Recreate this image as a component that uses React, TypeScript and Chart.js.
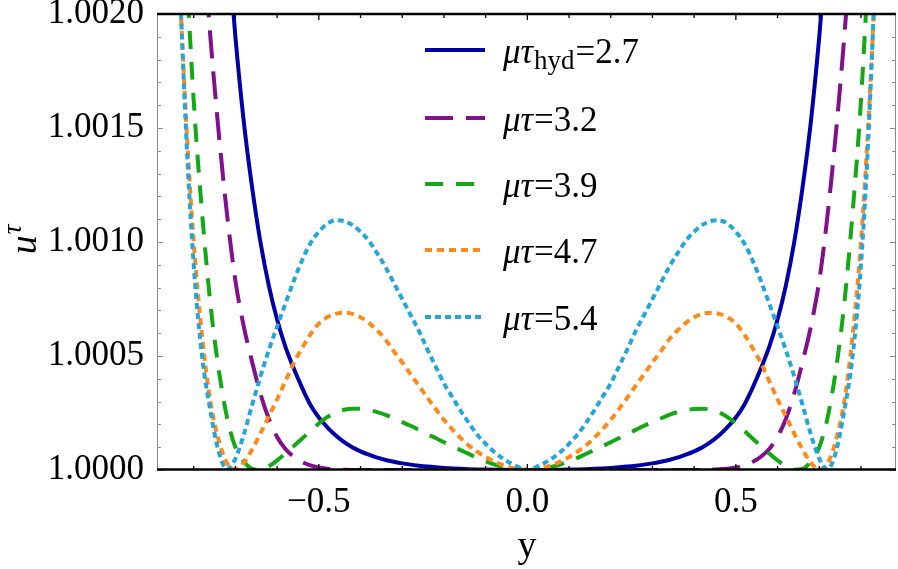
import React, { useEffect, useRef } from "react";
import { Chart, registerables } from "chart.js";

Chart.register(...registerables);

// x positions (y coordinate across the system)
const xGrid = [
  -0.86, -0.84, -0.82, -0.8, -0.78, -0.76, -0.74, -0.72, -0.7, -0.68, -0.66, -0.64, -0.62, -0.6, -0.58,
  -0.56, -0.54, -0.52, -0.5, -0.48, -0.46, -0.44, -0.42, -0.4, -0.38, -0.36, -0.34, -0.32, -0.3, -0.28,
  -0.26, -0.24, -0.22, -0.2, -0.18, -0.16, -0.14, -0.12, -0.1, -0.08, -0.06, -0.04, -0.02, 0,
  0.02, 0.04, 0.06, 0.08, 0.1, 0.12, 0.14, 0.16, 0.18, 0.2, 0.22, 0.24, 0.26, 0.28, 0.3, 0.32, 0.34,
  0.36, 0.38, 0.4, 0.42, 0.44, 0.46, 0.48, 0.5, 0.52, 0.54, 0.56, 0.58, 0.6, 0.62, 0.64, 0.66, 0.68,
  0.7, 0.72, 0.74, 0.76, 0.78, 0.8, 0.82, 0.84, 0.86,
];

// u^tau - 1, in units of 1e-4
const hydDev = [
  97, 80, 66, 54, 44, 36, 29, 23.5, 19, 15.3, 12.4, 10, 8.1, 6.6, 5.4, 4.45, 3.6, 2.85, 2.3, 1.88, 1.52,
  1.23, 1.0, 0.82, 0.67, 0.54, 0.44, 0.36, 0.29, 0.235, 0.19, 0.15, 0.118, 0.092, 0.07, 0.052, 0.038,
  0.027, 0.018, 0.011, 0.006, 0.003, 0.001,
  0,
  0.001, 0.003, 0.006, 0.011, 0.018, 0.027, 0.038, 0.052, 0.07, 0.092, 0.118, 0.15, 0.19, 0.235, 0.29,
  0.36, 0.44, 0.54, 0.67, 0.82, 1.0, 1.23, 1.52, 1.88, 2.3, 2.85, 3.6, 4.45, 5.4, 6.6, 8.1, 10, 12.4,
  15.3, 19, 23.5, 29, 36, 44, 54, 66, 80, 97,
];

const dev32 = [
  57, 46, 37, 30, 24, 19, 14.8, 11.2, 8.3, 6.3, 4.75, 3.35, 2.25, 1.45, 0.92, 0.58, 0.35, 0.2, 0.11,
  0.06, 0.03, 0.015, 0.005, 0, 0, 0, 0, 0, 0, 0, 0, 0, 0, 0, 0, 0, 0, 0, 0, 0, 0, 0, 0,
  0,
  0, 0, 0, 0, 0, 0, 0, 0, 0, 0, 0, 0, 0, 0, 0, 0, 0, 0, 0, 0, 0.005, 0.015, 0.03, 0.06, 0.11, 0.2,
  0.35, 0.58, 0.92, 1.45, 2.25, 3.35, 4.75, 6.3, 8.3, 11.2, 14.8, 19, 24, 30, 37, 46, 57,
];

const dev39 = [
  41, 31, 23, 16.2, 11.3, 7.3, 4.4, 2.3, 1.0, 0.38, 0.05, 0.01, 0.16, 0.42, 0.72, 1.05, 1.38, 1.72,
  2.04, 2.32, 2.52, 2.64, 2.69, 2.68, 2.63, 2.54, 2.42, 2.26, 2.1, 1.94, 1.76, 1.58, 1.4, 1.22, 1.04,
  0.87, 0.7, 0.53, 0.38, 0.25, 0.14, 0.07, 0.02,
  0,
  0.02, 0.07, 0.14, 0.25, 0.38, 0.53, 0.7, 0.87, 1.04, 1.22, 1.4, 1.58, 1.76, 1.94, 2.1, 2.26, 2.42,
  2.54, 2.63, 2.68, 2.69, 2.64, 2.52, 2.32, 2.04, 1.72, 1.38, 1.05, 0.72, 0.42, 0.16, 0.01, 0.05, 0.38,
  1.0, 2.3, 4.4, 7.3, 11.3, 16.2, 23, 31, 41,
];

const dev47 = [
  34, 24, 16, 10, 5.9, 3.0, 1.3, 0.3, 0.02, 0.32, 0.9, 1.6, 2.35, 3.1, 3.9, 4.7, 5.35, 5.95, 6.42, 6.7,
  6.85, 6.9, 6.85, 6.7, 6.45, 6.12, 5.72, 5.2, 4.72, 4.2, 3.7, 3.18, 2.68, 2.2, 1.78, 1.4, 1.07, 0.8,
  0.57, 0.38, 0.22, 0.1, 0.03,
  0,
  0.03, 0.1, 0.22, 0.38, 0.57, 0.8, 1.07, 1.4, 1.78, 2.2, 2.68, 3.18, 3.7, 4.2, 4.72, 5.2, 5.72, 6.12,
  6.45, 6.7, 6.85, 6.9, 6.85, 6.7, 6.42, 5.95, 5.35, 4.7, 3.9, 3.1, 2.35, 1.6, 0.9, 0.32, 0.02, 0.3,
  1.3, 3.0, 5.9, 10, 16, 24, 34,
];

const dev54 = [
  38, 25, 15.5, 9.0, 5.0, 2.6, 0.8, 0.03, 0.5, 1.55, 2.85, 4.1, 5.25, 6.3, 7.3, 8.3, 9.2, 9.95, 10.45,
  10.8, 10.95, 10.92, 10.75, 10.45, 10.05, 9.5, 8.9, 8.2, 7.5, 6.8, 6.1, 5.3, 4.55, 3.8, 3.2, 2.6, 2.05,
  1.55, 1.15, 0.8, 0.52, 0.3, 0.12,
  0,
  0.12, 0.3, 0.52, 0.8, 1.15, 1.55, 2.05, 2.6, 3.2, 3.8, 4.55, 5.3, 6.1, 6.8, 7.5, 8.2, 8.9, 9.5,
  10.05, 10.45, 10.75, 10.92, 10.95, 10.8, 10.45, 9.95, 9.2, 8.3, 7.3, 6.3, 5.25, 4.1, 2.85, 1.55, 0.5,
  0.03, 0.8, 2.6, 5.0, 9.0, 15.5, 25, 38,
];

const legendValues = ["2.7", "3.2", "3.9", "4.7", "5.4"];
const legendSubs = ["hyd", "", "", "", ""];

const xMajorTicks = [-0.5, 0, 0.5];
const xMinorTicks = [-0.8, -0.7, -0.6, -0.4, -0.3, -0.2, -0.1, 0.1, 0.2, 0.3, 0.4, 0.6, 0.7, 0.8];
const yMajorTicks = [1.0, 1.0005, 1.001, 1.0015, 1.002];
const yMinorTicks = [
  1.0001, 1.0002, 1.0003, 1.0004, 1.0006, 1.0007, 1.0008, 1.0009, 1.0011, 1.0012, 1.0013, 1.0014,
  1.0016, 1.0017, 1.0018, 1.0019,
];

const SERIF = "'Liberation Serif', 'DejaVu Serif', serif";

const seriesStyles = [
  { dev: hydDev, color: "#0000a6", dash: [] as number[], order: 4 },
  { dev: dev32, color: "#820f8c", dash: [28, 13], order: 3 },
  { dev: dev39, color: "#14a814", dash: [18, 13], order: 2 },
  { dev: dev47, color: "#ff8a1a", dash: [7, 5], order: 1 },
  { dev: dev54, color: "#25a6da", dash: [6, 4], order: 0 },
];

const decorPlugin = {
  id: "decor",
  afterDatasetsDraw(chart: any) {
    const { ctx, chartArea: a, scales } = chart;
    const sx = scales.x;
    const sy = scales.y;
    ctx.save();
    ctx.lineCap = "butt";

    const seg = (x1: number, y1: number, x2: number, y2: number) => {
      ctx.beginPath();
      ctx.moveTo(x1, y1);
      ctx.lineTo(x2, y2);
      ctx.stroke();
    };

    // y ticks (gray, inward on left and right)
    ctx.strokeStyle = "#8a8a8a";
    ctx.lineWidth = 1;
    const yTick = (v: number, len: number) => {
      const py = Math.round(sy.getPixelForValue(v)) + 0.5;
      seg(a.left, py, a.left + len, py);
      seg(a.right, py, a.right - len, py);
    };
    yMinorTicks.forEach((v) => yTick(v, 4));
    yMajorTicks.forEach((v) => yTick(v, 6));

    // x ticks (black, inward on bottom and top)
    ctx.strokeStyle = "#000";
    ctx.lineWidth = 1.3;
    const xTick = (v: number, len: number) => {
      const px = sx.getPixelForValue(v);
      seg(px, a.bottom, px, a.bottom - len);
      seg(px, a.top, px, a.top + len);
    };
    xMinorTicks.forEach((v) => xTick(v, 4));
    xMajorTicks.forEach((v) => xTick(v, 6));

    // frame
    ctx.strokeStyle = "#8a8a8a";
    ctx.lineWidth = 1;
    seg(a.left + 0.5, a.top, a.left + 0.5, a.bottom);
    seg(a.right - 0.5, a.top, a.right - 0.5, a.bottom);
    ctx.strokeStyle = "#000";
    ctx.lineWidth = 2.5;
    seg(a.left, a.top, a.right, a.top);
    seg(a.left, a.bottom - 0.5, a.right, a.bottom - 0.5);

    // legend
    const rows = [50, 118, 184, 250, 317];
    chart.data.datasets.forEach((ds: any, i: number) => {
      const y = rows[i];
      ctx.strokeStyle = ds.borderColor;
      ctx.lineWidth = ds.borderWidth;
      ctx.setLineDash(ds.borderDash || []);
      seg(425, y, 485, y);
      ctx.setLineDash([]);
      ctx.fillStyle = "#000";
      ctx.textBaseline = "alphabetic";
      ctx.textAlign = "left";
      const base = y + 12.5;
      let tx = 503;
      ctx.font = `italic 35px ${SERIF}`;
      ctx.fillText("μτ", tx, base);
      tx += ctx.measureText("μτ").width + 1;
      if (legendSubs[i]) {
        ctx.font = `27px ${SERIF}`;
        ctx.fillText(legendSubs[i], tx, base + 6);
        tx += ctx.measureText(legendSubs[i]).width + 1;
      }
      ctx.font = `35px ${SERIF}`;
      ctx.fillText("=" + legendValues[i], tx, base);
    });

    // y-axis title: u^tau
    ctx.save();
    ctx.translate(27, 240);
    ctx.rotate(-Math.PI / 2);
    ctx.fillStyle = "#000";
    ctx.textBaseline = "alphabetic";
    ctx.textAlign = "left";
    ctx.font = `italic 38px ${SERIF}`;
    const uw = ctx.measureText("u").width;
    ctx.font = `italic 27px ${SERIF}`;
    const tw = ctx.measureText("τ").width;
    const x0 = -(uw + tw) / 2;
    ctx.font = `italic 38px ${SERIF}`;
    ctx.fillText("u", x0, 9);
    ctx.font = `italic 27px ${SERIF}`;
    ctx.fillText("τ", x0 + uw + 1, -6);
    ctx.restore();

    // x-axis title
    ctx.fillStyle = "#000";
    ctx.font = `38px ${SERIF}`;
    ctx.textAlign = "center";
    ctx.textBaseline = "alphabetic";
    ctx.fillText("y", 527, 557);

    ctx.restore();
  },
};

export default function App() {
  const ref = useRef<HTMLCanvasElement>(null);

  useEffect(() => {
    const datasets = seriesStyles.map((s) => ({
      data: xGrid.map((x, i) => ({ x, y: 1 + s.dev[i] * 1e-4 })),
      borderColor: s.color,
      backgroundColor: s.color,
      borderWidth: 4,
      borderDash: s.dash,
      order: s.order,
      pointRadius: 0,
      fill: false,
      cubicInterpolationMode: "monotone" as const,
    }));

    const chart = new Chart(ref.current as HTMLCanvasElement, {
      type: "line",
      data: { datasets },
      options: {
        animation: false,
        responsive: false,
        devicePixelRatio: 1,
        layout: { padding: { top: 14, right: 2, left: 0, bottom: 0 } },
        plugins: { legend: { display: false }, tooltip: { enabled: false } },
        elements: { point: { radius: 0 } },
        scales: {
          x: {
            type: "linear",
            min: -0.888,
            max: 0.884,
            grid: { display: false },
            border: { display: false },
            afterBuildTicks: (s: any) => {
              s.ticks = xMajorTicks.map((v) => ({ value: v }));
            },
            ticks: {
              color: "#000",
              font: { family: SERIF, size: 35 },
              padding: 4,
              maxRotation: 0,
              autoSkip: false,
              callback: (v: any) => {
                const n = Number(v);
                if (Math.abs(n) < 1e-9) return "0.0";
                return (n < 0 ? "\u2212" : "") + Math.abs(n).toFixed(1);
              },
            },
            afterFit: (s: any) => {
              s.height = 99;
              s.paddingLeft = 0;
              s.paddingRight = 0;
            },
          },
          y: {
            type: "linear",
            min: 1.0,
            max: 1.002,
            grid: { display: false },
            border: { display: false },
            afterBuildTicks: (s: any) => {
              s.ticks = yMajorTicks.map((v) => ({ value: v }));
            },
            ticks: {
              color: "#000",
              font: { family: SERIF, size: 35 },
              padding: 5,
              autoSkip: false,
              callback: (v: any) => Number(v).toFixed(4),
            },
            afterFit: (s: any) => {
              s.width = 157;
              s.paddingTop = 0;
              s.paddingBottom = 0;
            },
          },
        },
      },
      plugins: [decorPlugin],
    });
    return () => chart.destroy();
  }, []);

  return (
    <div
      style={{
        position: "fixed",
        left: 0,
        top: 0,
        width: 898,
        height: 569,
        background: "#fff",
      }}
    >
      <canvas ref={ref} width={898} height={569} style={{ display: "block" }} />
    </div>
  );
}
